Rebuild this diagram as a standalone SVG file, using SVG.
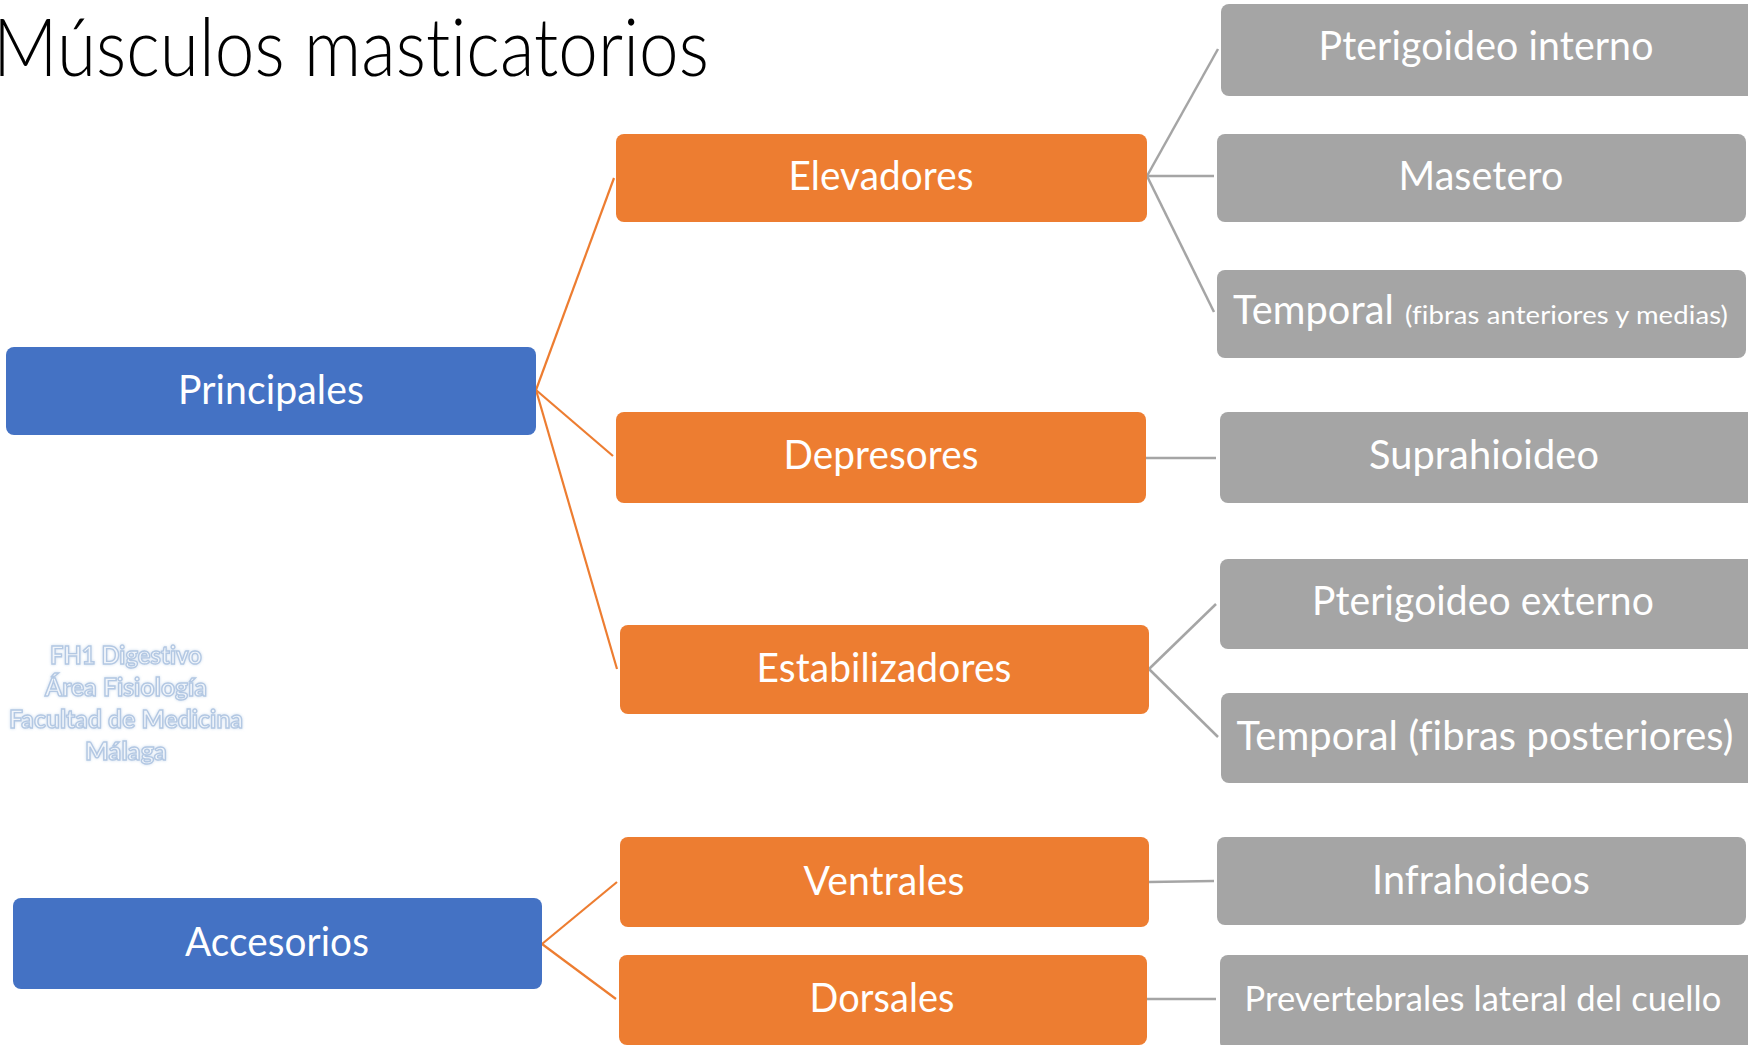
<svg xmlns="http://www.w3.org/2000/svg" width="1748" height="1045" viewBox="0 0 1748 1045">
<defs>
<style>
text{font-variant-ligatures:none;font-feature-settings:"liga" 0,"clig" 0;letter-spacing:0.1px}
.blue{fill:#4472C4}
.orange{fill:#ED7D31}
.gray{fill:#A5A5A5}
.lbl{font-family:Lato,"Liberation Sans",sans-serif;fill:#ffffff;font-size:40px;text-anchor:middle}
.lo{stroke:#ED7D31;stroke-width:2.2;fill:none}
.lg{stroke:#A5A5A5;stroke-width:2.5;fill:none}
.wm{font-family:Lato,"Liberation Sans",sans-serif;font-weight:bold;font-size:25px;text-anchor:middle;fill:#f1f5fa;stroke:#b3c8e3;stroke-width:1.4}
</style>
<filter id="glow" x="-10%" y="-30%" width="120%" height="160%">
<feGaussianBlur in="SourceAlpha" stdDeviation="2"/>
<feFlood flood-color="#cddcee"/>
<feComposite operator="in" in2="SourceAlpha"/>
<feGaussianBlur stdDeviation="1.5" result="g"/>
<feMerge><feMergeNode in="g"/><feMergeNode in="SourceGraphic"/></feMerge>
</filter>
</defs>
<rect width="1748" height="1045" fill="#ffffff"/>
<text id="title" x="-7" y="76" font-family="Lato,'Liberation Sans',sans-serif" font-weight="300" font-size="80" fill="#000000" textLength="716" lengthAdjust="spacingAndGlyphs">Músculos masticatorios</text>

<g id="watermark" filter="url(#glow)">
<text class="wm" x="126" y="664" textLength="152" lengthAdjust="spacingAndGlyphs">FH1 Digestivo</text>
<text class="wm" x="126" y="696" textLength="162" lengthAdjust="spacingAndGlyphs">Área Fisiología</text>
<text class="wm" x="126" y="728" textLength="234" lengthAdjust="spacingAndGlyphs">Facultad de Medicina</text>
<text class="wm" x="126" y="760" textLength="82" lengthAdjust="spacingAndGlyphs">Málaga</text>
</g>

<g id="connectors">
<line class="lo" x1="536" y1="390" x2="614" y2="178"/>
<line class="lo" x1="536" y1="390" x2="613" y2="456"/>
<line class="lo" x1="536" y1="390" x2="617" y2="669"/>
<line class="lo" x1="542" y1="944" x2="617" y2="882"/>
<line class="lo" x1="542" y1="944" x2="616" y2="999"/>
<line class="lg" x1="1147" y1="176" x2="1218" y2="49"/>
<line class="lg" x1="1147" y1="176" x2="1214" y2="176"/>
<line class="lg" x1="1147" y1="176" x2="1214" y2="312"/>
<line class="lg" x1="1146" y1="458" x2="1216" y2="458"/>
<line class="lg" x1="1149" y1="669" x2="1216" y2="604"/>
<line class="lg" x1="1149" y1="669" x2="1218" y2="737"/>
<line class="lg" x1="1149" y1="882" x2="1214" y2="881"/>
<line class="lg" x1="1147" y1="999" x2="1216" y2="999"/>
</g>

<g id="principales"><rect class="blue" x="6" y="347" width="530" height="88" rx="8"/><text class="lbl" x="271" y="404" textLength="186" lengthAdjust="spacingAndGlyphs">Principales</text></g>
<g id="accesorios"><rect class="blue" x="13" y="898" width="529" height="91" rx="8"/><text class="lbl" x="277" y="956" textLength="184" lengthAdjust="spacingAndGlyphs">Accesorios</text></g>

<g id="elevadores"><rect class="orange" x="616" y="134" width="531" height="88" rx="8"/><text class="lbl" x="881" y="190" textLength="185" lengthAdjust="spacingAndGlyphs">Elevadores</text></g>
<g id="depresores"><rect class="orange" x="616" y="412" width="530" height="91" rx="8"/><text class="lbl" x="881" y="469" textLength="195" lengthAdjust="spacingAndGlyphs">Depresores</text></g>
<g id="estabilizadores"><rect class="orange" x="620" y="625" width="529" height="89" rx="8"/><text class="lbl" x="884" y="682" textLength="255" lengthAdjust="spacingAndGlyphs">Estabilizadores</text></g>
<g id="ventrales"><rect class="orange" x="620" y="837" width="529" height="90" rx="8"/><text class="lbl" x="884" y="895" textLength="161" lengthAdjust="spacingAndGlyphs">Ventrales</text></g>
<g id="dorsales"><rect class="orange" x="619" y="955" width="528" height="90" rx="8"/><text class="lbl" x="882" y="1012" textLength="145" lengthAdjust="spacingAndGlyphs">Dorsales</text></g>

<g id="pterigoideo-interno"><rect class="gray" x="1221" y="4" width="535" height="92" rx="8"/><text class="lbl" x="1486" y="60" textLength="335" lengthAdjust="spacingAndGlyphs">Pterigoideo interno</text></g>
<g id="masetero"><rect class="gray" x="1217" y="134" width="529" height="88" rx="8"/><text class="lbl" x="1481" y="190" textLength="165" lengthAdjust="spacingAndGlyphs">Masetero</text></g>
<g id="temporal-anterior"><rect class="gray" x="1217" y="270" width="529" height="88" rx="8"/><text class="lbl" x="1233" y="324" style="text-anchor:start" textLength="161" lengthAdjust="spacingAndGlyphs">Temporal</text><text x="1405" y="324" font-family="Lato,'Liberation Sans',sans-serif" font-size="25" fill="#ffffff" textLength="323" lengthAdjust="spacingAndGlyphs">(fibras anteriores y medias)</text></g>
<g id="suprahioideo"><rect class="gray" x="1220" y="412" width="536" height="91" rx="8"/><text class="lbl" x="1484" y="469" textLength="230" lengthAdjust="spacingAndGlyphs">Suprahioideo</text></g>
<g id="pterigoideo-externo"><rect class="gray" x="1220" y="559" width="536" height="90" rx="8"/><text class="lbl" x="1483" y="615" textLength="342" lengthAdjust="spacingAndGlyphs">Pterigoideo externo</text></g>
<g id="temporal-posterior"><rect class="gray" x="1221" y="693" width="535" height="90" rx="8"/><text class="lbl" x="1485" y="750" textLength="497" lengthAdjust="spacingAndGlyphs">Temporal (fibras posteriores)</text></g>
<g id="infrahoideos"><rect class="gray" x="1217" y="837" width="529" height="88" rx="8"/><text class="lbl" x="1481" y="894" textLength="218" lengthAdjust="spacingAndGlyphs">Infrahoideos</text></g>
<g id="prevertebrales"><rect class="gray" x="1220" y="955" width="536" height="95" rx="8"/><text class="lbl" x="1483" y="1011" style="font-size:34px" textLength="477" lengthAdjust="spacingAndGlyphs">Prevertebrales lateral del cuello</text></g>
</svg>
